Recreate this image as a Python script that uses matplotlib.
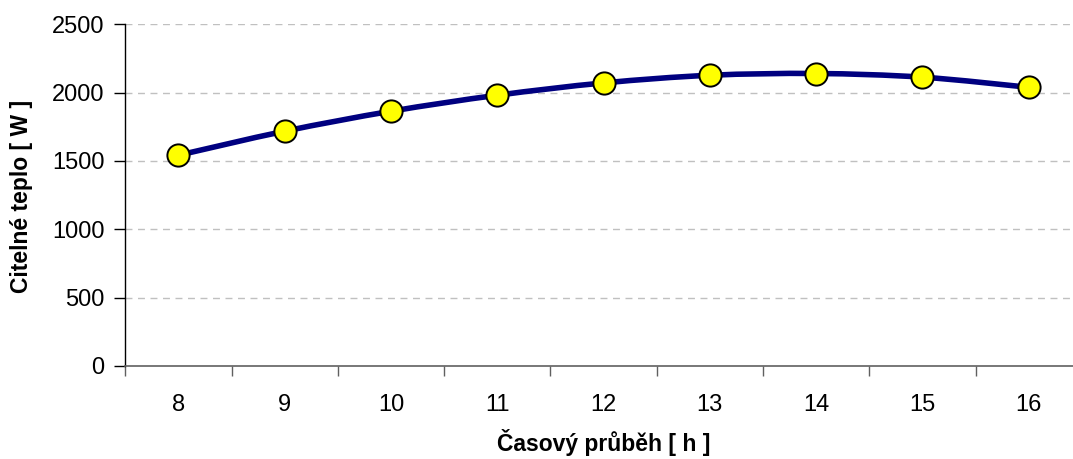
import numpy as np
import matplotlib.pyplot as plt
from matplotlib.path import Path
from matplotlib.patches import PathPatch


# --------------------------------------------------
# Data
# --------------------------------------------------

hours = [8, 9, 10, 11, 12, 13, 14, 15, 16]
heat = [1542, 1718, 1864, 1981, 2071, 2127, 2140, 2113, 2039]

y_ticks = [0, 500, 1000, 1500, 2000, 2500]

x_label = "Časový průběh [ h ]"
y_label = "Citelné teplo [ W ]"


# --------------------------------------------------
# Style
# --------------------------------------------------

plt.rcParams["font.family"] = ["Liberation Sans", "DejaVu Sans"]

line_color = "#000080"
marker_face = "#FFFF00"


def smooth_path(xs, ys):
    # Excel-like smoothed line: Catmull-Rom segments as cubic Beziers
    pts = np.column_stack([xs, ys]).astype(float)
    ext = np.vstack([pts[0], pts, pts[-1]])
    verts = [pts[0]]
    codes = [Path.MOVETO]
    for i in range(1, len(ext) - 2):
        p0, p1, p2, p3 = ext[i - 1], ext[i], ext[i + 1], ext[i + 2]
        c1 = p1 + (p2 - p0) / 6.0
        c2 = p2 - (p3 - p1) / 6.0
        verts += [c1, c2, p2]
        codes += [Path.CURVE4] * 3
    return Path(verts, codes)


# --------------------------------------------------
# Plot
# --------------------------------------------------

fig = plt.figure(figsize=(10.73, 4.59), dpi=100)
ax = fig.add_axes([125.3 / 1073, 1 - 366 / 459, (1081.8 - 125.3) / 1073, (366 - 24.3) / 459])

ax.set_xlim(7.5, 16.5)
ax.set_ylim(0, 2500)

for yv in y_ticks[1:]:
    ax.axhline(yv, color="#c0c0c0", lw=1.0, ls=(0, (5, 4)), zorder=1)

patch = PathPatch(smooth_path(hours, heat), facecolor="none",
                  edgecolor=line_color, lw=4.0, zorder=2, capstyle="round",
                  joinstyle="round")
ax.add_patch(patch)
ax.plot(hours, heat, ls="none", marker="o", ms=16, mfc=marker_face,
        mec="black", mew=1.4, zorder=3)

for side in ["top", "right"]:
    ax.spines[side].set_visible(False)
ax.spines["left"].set_color("black")
ax.spines["left"].set_linewidth(1.0)
ax.spines["bottom"].set_color("#606060")
ax.spines["bottom"].set_linewidth(1.2)

ax.set_yticks(y_ticks)
ax.set_yticklabels([str(v) for v in y_ticks])
ax.set_xticks(hours)
ax.set_xticklabels([str(h) for h in hours])
ax.set_xticks(np.arange(7.5, 16.6, 1.0), minor=True)

ax.tick_params(axis="y", direction="out", length=8, width=1.0, pad=7,
               labelsize=17, color="black")
ax.tick_params(axis="x", which="major", length=0, pad=20, labelsize=17)
ax.tick_params(axis="x", which="minor", direction="out", length=7,
               width=1.0, color="#606060")

# axis titles placed where the reference has them
fig.text(603.5 / 1073, 1 - 443 / 459, x_label, fontsize=16.5,
         fontweight="bold", ha="center", va="center")
fig.text(22 / 1073, 1 - 196 / 459, y_label, fontsize=16.5,
         fontweight="bold", ha="center", va="center", rotation=90)

fig.savefig("out.png", dpi=100)
plt.close(fig)
